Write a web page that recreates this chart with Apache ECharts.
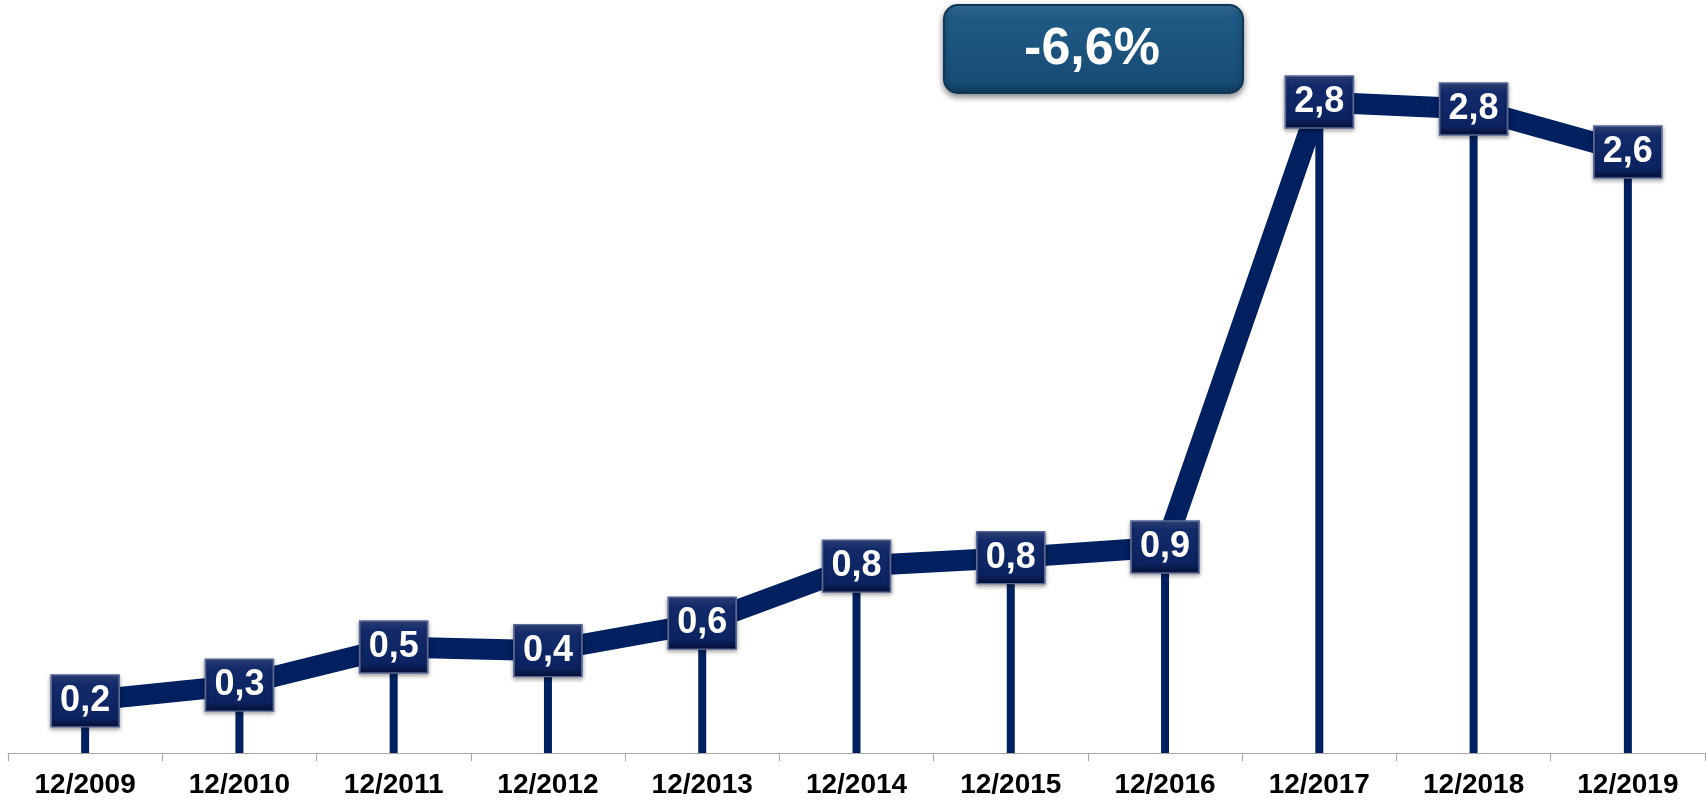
<!DOCTYPE html>
<html>
<head>
<meta charset="utf-8">
<script src="https://cdn.jsdelivr.net/npm/echarts@6/dist/echarts.min.js"></script>
<style>
  html, body { margin: 0; padding: 0; background: #fff; }
  #mychart { width: 1706px; height: 801px; }
</style>
</head>
<body>
<div id="mychart"></div>
<script>
// categories and values
var years = ['12/2009', '12/2010', '12/2011', '12/2012', '12/2013', '12/2014', '12/2015', '12/2016', '12/2017', '12/2018', '12/2019'];
var values = [0.224, 0.292, 0.456, 0.44, 0.559, 0.804, 0.84, 0.886, 2.8, 2.77, 2.585];
var changeText = '-6,6%';

var navy = '#002060';

function fmt(v) {
	return v.toFixed(1).replace('.', ',');
}

var myChart = echarts.init(document.getElementById('mychart'));
window.onresize = myChart.resize;

var option = {
	animation: false,
	backgroundColor: '#fff',
	grid: {
		left: 8,
		right: 1,
		top: 9,
		bottom: 48
	},
	xAxis: [{
		type: 'category',
		data: years,
		axisLine: {
			lineStyle: { color: '#a6a6a6', width: 1 }
		},
		axisTick: {
			show: true,
			length: 8,
			lineStyle: { color: '#a6a6a6' }
		},
		axisLabel: {
			color: '#000',
			fontFamily: 'Liberation Sans',
			fontWeight: 'bold',
			fontSize: 28,
			margin: 18
		}
	}],
	yAxis: [{
		type: 'value',
		min: 0,
		max: 3.2,
		show: false,
		splitLine: { show: false }
	}],
	series: [
		{
			// drop lines under each marker
			type: 'bar',
			data: values,
			barWidth: 8,
			z: 1,
			itemStyle: { color: navy }
		},
		{
			type: 'line',
			data: values,
			z: 3,
			lineStyle: { color: navy, width: 21 },
			symbol: 'rect',
			symbolSize: [68, 52],
			itemStyle: {
				color: new echarts.graphic.LinearGradient(0, 0, 0, 1, [
					{ offset: 0, color: '#33467e' },
					{ offset: 0.18, color: '#132b6a' },
					{ offset: 0.82, color: '#0c2361' },
					{ offset: 1, color: '#050f33' }
				]),
				borderColor: '#5a6a98',
				borderWidth: 1.5,
				shadowColor: 'rgba(0,0,0,0.35)',
				shadowBlur: 4,
				shadowOffsetY: 2
			},
			label: {
				show: true,
				position: 'inside',
				color: '#fff',
				fontFamily: 'Liberation Sans',
				fontWeight: 'bold',
				fontSize: 36,
				formatter: function(p) {
					return fmt(p.value);
				}
			}
		}
	],
	graphic: [
		{
			type: 'rect',
			left: 943,
			top: 4,
			z: 10,
			shape: { width: 299, height: 88, r: 14 },
			style: {
				fill: new echarts.graphic.LinearGradient(0, 0, 0, 1, [
					{ offset: 0, color: '#3a77a3' },
					{ offset: 0.15, color: '#1f5a85' },
					{ offset: 0.85, color: '#174d76' },
					{ offset: 1, color: '#0f3a5c' }
				]),
				stroke: '#0e3656',
				lineWidth: 2,
				shadowColor: 'rgba(0,0,0,0.45)',
				shadowBlur: 6,
				shadowOffsetY: 3
			}
		},
		{
			type: 'text',
			x: 1092,
			y: 50,
			z: 11,
			style: {
				text: changeText,
				fill: '#fff',
				font: 'bold 52px "Liberation Sans"',
				textAlign: 'center',
				textVerticalAlign: 'middle'
			}
		}
	]
};
myChart.setOption(option);
</script>
</body>
</html>
